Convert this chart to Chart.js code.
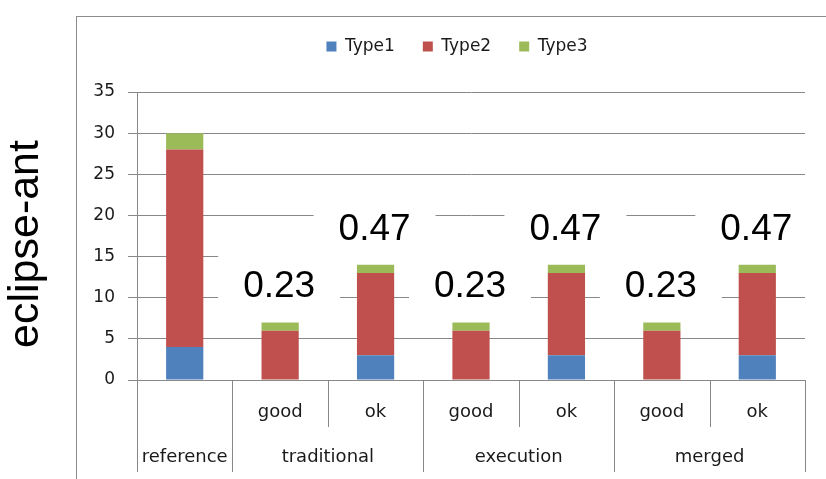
<!DOCTYPE html>
<html>
<head>
<meta charset="utf-8">
<script src="https://cdn.jsdelivr.net/npm/chart.js@4.4.0/dist/chart.umd.min.js"></script>
<style>
  html, body { margin: 0; padding: 0; background: #fff; }
  #wrap { width: 826px; height: 479px; position: relative; }
</style>
</head>
<body>
<div id="wrap"><canvas id="chart"></canvas></div>
<script>
const subLabels = ['', 'good', 'ok', 'good', 'ok', 'good', 'ok'];
const groupLabels = ['reference', 'traditional', 'execution', 'merged'];
const groupSpans = [1, 2, 2, 2];
const type1 = [4, 0, 3, 0, 3, 0, 3];
const type2 = [24, 6, 10, 6, 10, 6, 10];
const type3 = [2, 1, 1, 1, 1, 1, 1];
const scores = ['', '0.23', '0.47', '0.23', '0.47', '0.23', '0.47'];
const yMax = 35;
const yStep = 5;

const gridColor = '#888888';
const textColor = '#1a1a1a';

// outer frame + big rotated axis title
const frame = {
    id: 'frame',
    afterLayout(chart) {
        // legend sits centred on the frame, higher than the default box
        const lg = chart.legend;
        lg.left += 21;
        lg.top -= 27;
        lg.bottom -= 27;
    },
    beforeDraw(chart) {
        const ctx = chart.ctx;
        ctx.save();
        ctx.strokeStyle = '#8c8c8c';
        ctx.lineWidth = 1;
        ctx.strokeRect(76.5, 16.5, 900, 900);
        ctx.translate(38, (chart.chartArea.top + chart.chartArea.bottom) / 2 + 8);
        ctx.rotate(-Math.PI / 2);
        ctx.font = '43px "Liberation Sans"';
        ctx.fillStyle = '#000';
        ctx.textAlign = 'center';
        ctx.textBaseline = 'alphabetic';
        ctx.fillText('eclipse-ant', 0, 0);
        ctx.restore();
    }
};

// score numbers above the bars, on white boxes that hide the gridlines
const scoreLabels = {
    id: 'scoreLabels',
    beforeDatasetsDraw(chart) {
        const { ctx, scales: { x, y } } = chart;
        ctx.save();
        ctx.font = '37px "Liberation Sans"';
        ctx.textAlign = 'center';
        ctx.textBaseline = 'alphabetic';
        scores.forEach((s, i) => {
            if (!s) return;
            const total = type1[i] + type2[i] + type3[i];
            const cx = x.getPixelForValue(i) - 1;
            const cy = y.getPixelForValue(total) - 38;
            ctx.fillStyle = '#fff';
            ctx.fillRect(cx - 61, cy - 33, 122, 66);
            ctx.fillStyle = '#000';
            ctx.fillText(s, cx, cy + 13);
        });
        ctx.restore();
    }
};

// two-level category axis
const catAxis = {
    id: 'catAxis',
    afterDraw(chart) {
        const { ctx, chartArea } = chart;
        const x = chart.scales.x;
        const n = subLabels.length;
        const w = (chartArea.right - chartArea.left) / n;
        const top = chartArea.bottom;
        const edge = i => Math.round(chartArea.left + i * w) + 0.5;
        ctx.save();
        ctx.strokeStyle = gridColor;
        ctx.lineWidth = 1;
        ctx.fillStyle = textColor;
        ctx.font = '18px "DejaVu Sans"';
        ctx.textAlign = 'center';
        ctx.textBaseline = 'middle';
        subLabels.forEach((s, i) => {
            if (s) ctx.fillText(s, x.getPixelForValue(i), top + 32);
        });
        let start = 0;
        ctx.beginPath();
        ctx.moveTo(edge(0), top);
        ctx.lineTo(edge(0), top + 92);
        groupSpans.forEach((span, g) => {
            for (let k = 1; k < span; k++) {
                ctx.moveTo(edge(start + k), top);
                ctx.lineTo(edge(start + k), top + 47);
            }
            ctx.moveTo(edge(start + span), top);
            ctx.lineTo(edge(start + span), top + 92);
            ctx.fillText(groupLabels[g], chartArea.left + (start + span / 2) * w, top + 77);
            start += span;
        });
        ctx.stroke();
        ctx.restore();
    }
};

new Chart(document.getElementById('chart'), {
    type: 'bar',
    data: {
        labels: subLabels,
        datasets: [
            { label: 'Type1', data: type1, backgroundColor: '#4f81bd' },
            { label: 'Type2', data: type2, backgroundColor: '#c0504d' },
            { label: 'Type3', data: type3, backgroundColor: '#9bbb59' }
        ]
    },
    options: {
        responsive: true,
        maintainAspectRatio: false,
        animation: false,
        layout: { padding: { left: 88, right: 21, top: 37, bottom: 0 } },
        datasets: { bar: { barPercentage: 0.39, categoryPercentage: 1 } },
        plugins: {
            legend: {
                position: 'top',
                labels: {
                    boxWidth: 10,
                    boxHeight: 10,
                    padding: 28,
                    color: textColor,
                    font: { family: 'DejaVu Sans', size: 17 }
                }
            },
            tooltip: { enabled: false }
        },
        scales: {
            x: {
                stacked: true,
                ticks: { display: false },
                grid: { display: false },
                border: { color: gridColor },
                afterFit(s) { s.height = 99; }
            },
            y: {
                stacked: true,
                min: 0,
                max: yMax,
                ticks: {
                    stepSize: yStep,
                    padding: 13,
                    color: textColor,
                    font: { family: 'DejaVu Sans', size: 17 }
                },
                grid: { color: gridColor, tickLength: 9 },
                border: { color: gridColor },
                afterFit(s) { s.width = 49; }
            }
        }
    },
    plugins: [frame, scoreLabels, catAxis]
});
</script>
</body>
</html>
